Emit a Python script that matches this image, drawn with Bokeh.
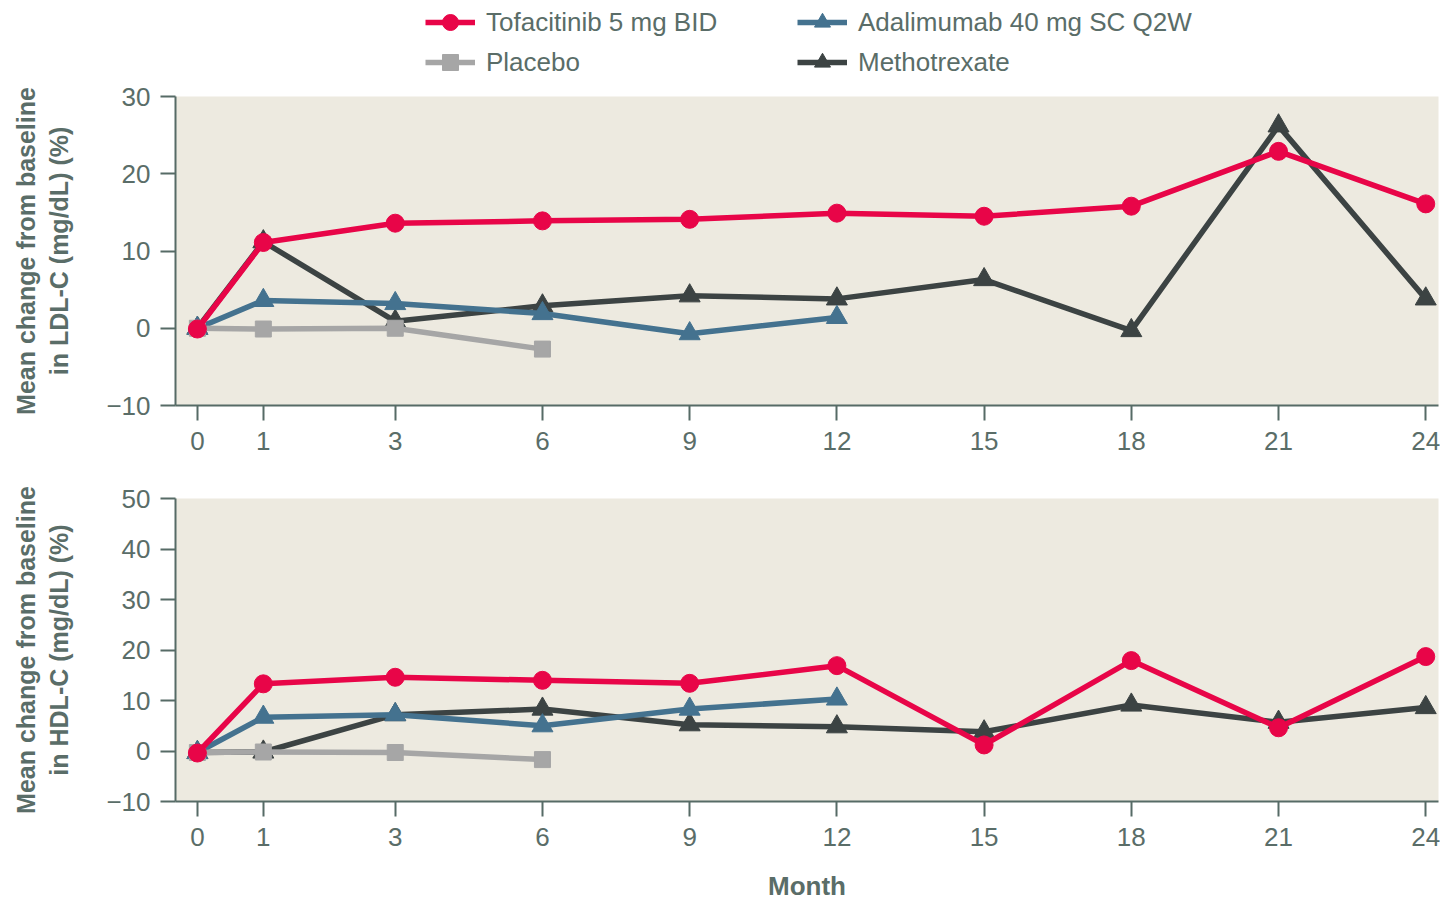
from bokeh.plotting import figure
from bokeh.models import FixedTicker, Legend, LegendItem
from bokeh.layouts import column
from bokeh.embed import file_html
from bokeh.resources import INLINE

# ---------------- data ----------------
months = [0, 1, 3, 6, 9, 12, 15, 18, 21, 24]
ada_months = [0, 1, 3, 6, 9, 12]
pbo_months = [0, 1, 3, 6]

tofa_ldl = [-0.1, 11.1, 13.6, 13.9, 14.1, 14.9, 14.5, 15.8, 22.9, 16.1]
mtx_ldl = [0.0, 11.2, 0.9, 2.9, 4.2, 3.8, 6.3, -0.3, 26.2, 3.8]
ada_ldl = [0.0, 3.6, 3.2, 1.9, -0.7, 1.4]
pbo_ldl = [0.0, -0.1, 0.0, -2.7]

tofa_hdl = [-0.4, 13.3, 14.6, 14.0, 13.4, 16.9, 1.2, 17.9, 4.6, 18.7]
mtx_hdl = [-0.3, -0.2, 7.2, 8.3, 5.2, 4.8, 3.8, 9.1, 5.7, 8.6]
ada_hdl = [-0.3, 6.7, 7.2, 5.0, 8.3, 10.3]
pbo_hdl = [-0.3, -0.2, -0.3, -1.7]

ldl_ticks = [-10, 0, 10, 20, 30]
hdl_ticks = [-10, 0, 10, 20, 30, 40, 50]

series_names = ["Tofacitinib 5 mg BID", "Adalimumab 40 mg SC Q2W", "Placebo", "Methotrexate"]

# ---------------- styles ----------------
C_TOFA = "#E80548"
C_ADA = "#44728F"
C_PBO = "#A6A6A6"
C_MTX = "#3C4343"
C_BG = "#EDEAE0"
C_AX = "#566B66"
C_TXT = "#5A6D68"
FONT = "Liberation Sans"
FS = "26px"
LW = 5.5

STYLES = {
    "tofa": dict(color=C_TOFA, marker="circle", size=18),
    "ada": dict(color=C_ADA, marker="triangle", size=21),
    "pbo": dict(color=C_PBO, marker="square", size=16),
    "mtx": dict(color=C_MTX, marker="triangle", size=21),
}


def month_pos(m):
    # the month axis is piecewise: months 0-3 are drawn wider than 3-24
    k = 1.344
    return m * k if m <= 3 else 3 * k + (m - 3)


def pos(ms):
    return [month_pos(m) for m in ms]


X_RANGE = (-0.446, month_pos(24) + 0.26)


def style(p, yticks):
    p.background_fill_color = C_BG
    p.border_fill_color = "white"
    p.outline_line_color = None
    p.xgrid.visible = False
    p.ygrid.visible = False
    for ax in (p.xaxis[0], p.yaxis[0]):
        ax.axis_line_color = C_AX
        ax.axis_line_width = 2
        ax.major_tick_line_color = C_AX
        ax.major_tick_line_width = 2
        ax.major_tick_out = 15
        ax.major_tick_in = 0
        ax.minor_tick_line_color = None
        ax.major_label_text_font = FONT
        ax.major_label_text_font_size = FS
        ax.major_label_text_color = C_TXT
        ax.axis_label_text_font = FONT
        ax.axis_label_text_font_size = FS
        ax.axis_label_text_font_style = "bold"
        ax.axis_label_text_color = C_TXT
    p.xaxis[0].ticker = FixedTicker(ticks=pos(months))
    p.xaxis[0].major_label_overrides = {month_pos(m): str(m) for m in months}
    p.xaxis[0].major_label_standoff = 11
    p.yaxis[0].ticker = FixedTicker(ticks=yticks)
    p.yaxis[0].major_label_overrides = {t: (("\u2212" + str(-t)) if t < 0 else str(t)) for t in yticks}
    p.yaxis[0].major_label_standoff = 10
    p.yaxis[0].axis_label_standoff = 30
    p.yaxis[0].axis_label_text_font_size = "25px"


def series(p, key, xs, ys, visible=True):
    st = STYLES[key]
    l = p.line(xs, ys, line_color=st["color"], line_width=LW, visible=visible)
    s = p.scatter(xs, ys, marker=st["marker"], size=st["size"], color=st["color"], visible=visible)
    return [l, s]


def draw(p, tofa, ada, pbo, mtx, visible=True):
    return {
        "mtx": series(p, "mtx", pos(months), mtx, visible),
        "ada": series(p, "ada", pos(ada_months), ada, visible),
        "pbo": series(p, "pbo", pos(pbo_months), pbo, visible),
        "tofa": series(p, "tofa", pos(months), tofa, visible),
    }


def make_legend(items, loc):
    lg = Legend(items=items, location=loc, orientation="vertical")
    lg.glyph_width = 50
    lg.glyph_height = 40
    lg.label_standoff = 11
    lg.label_height = 26
    lg.spacing = 0
    lg.padding = 0
    lg.margin = 0
    lg.border_line_color = None
    lg.background_fill_alpha = 0
    lg.label_text_font = FONT
    lg.label_text_font_size = FS
    lg.label_text_color = C_TXT
    return lg


W = 1440
LB = 175
RB = 2

# legend strip (its renderers are hidden; only the legend is shown)
pl = figure(width=W, height=80, x_range=X_RANGE, y_range=(-10, 30),
            output_backend="svg", toolbar_location=None,
            x_axis_type=None, y_axis_type=None, min_border=0,
            min_border_left=LB, min_border_right=RB)
pl.outline_line_color = None
pl.xgrid.visible = False
pl.ygrid.visible = False
rl = draw(pl, tofa_ldl, ada_ldl, pbo_ldl, mtx_ldl, visible=False)
pl.add_layout(make_legend([LegendItem(label=series_names[0], renderers=rl["tofa"]),
                           LegendItem(label=series_names[2], renderers=rl["pbo"])], (250, -2)))
pl.add_layout(make_legend([LegendItem(label=series_names[1], renderers=rl["ada"]),
                           LegendItem(label=series_names[3], renderers=rl["mtx"])], (622, -2)))

p1 = figure(width=W, height=381, x_range=X_RANGE, y_range=(-10, 30),
            output_backend="svg", toolbar_location=None,
            min_border_left=LB, min_border_right=RB, min_border_top=16, min_border_bottom=56)
style(p1, ldl_ticks)
p1.yaxis[0].axis_label = "Mean change from baseline\nin LDL-C (mg/dL) (%)"
draw(p1, tofa_ldl, ada_ldl, pbo_ldl, mtx_ldl)

p2 = figure(width=W, height=442, x_range=X_RANGE, y_range=(-10, 50),
            output_backend="svg", toolbar_location=None,
            min_border_left=LB, min_border_right=RB, min_border_top=37, min_border_bottom=100)
style(p2, hdl_ticks)
p2.yaxis[0].axis_label = "Mean change from baseline\nin HDL-C (mg/dL) (%)"
p2.xaxis[0].axis_label = "Month"
p2.xaxis[0].axis_label_standoff = 22
draw(p2, tofa_hdl, ada_hdl, pbo_hdl, mtx_hdl)

layout = column(pl, p1, p2, spacing=0)
open("out.html", "w").write(file_html(layout, INLINE))
